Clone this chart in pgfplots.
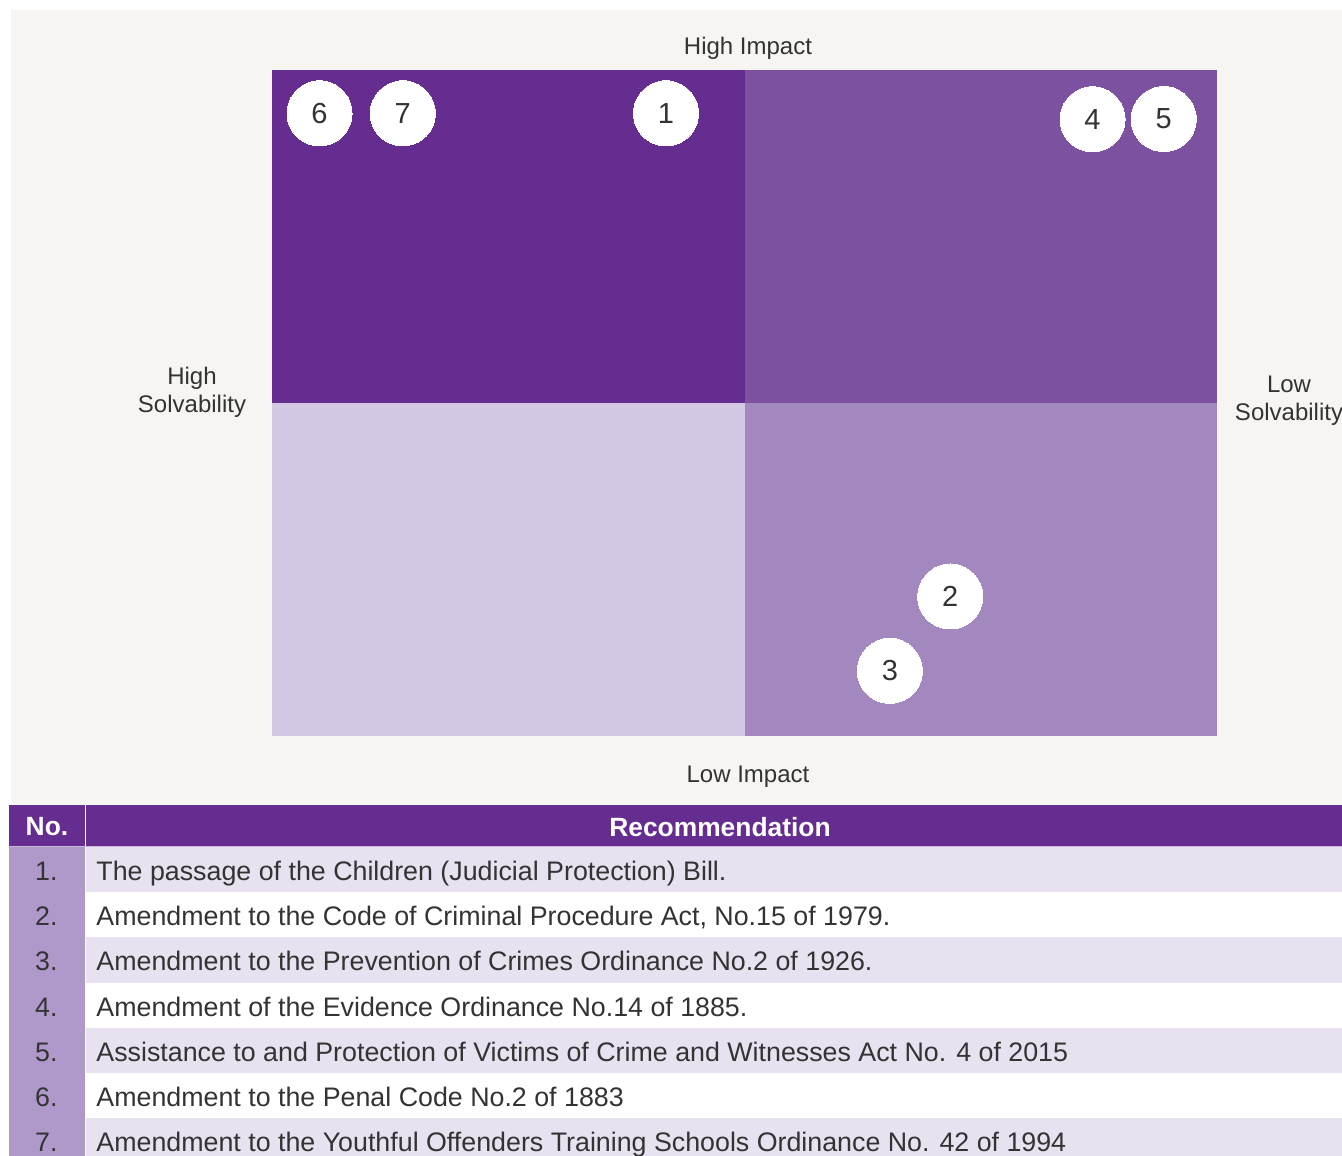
\documentclass[border=0pt]{standalone}
\usepackage{pgfplots}
\pgfplotsset{compat=1.18}
\usepackage{fontspec}
\setmainfont{Liberation Sans}
\definecolor{bg}{HTML}{F6F5F2}
\definecolor{qtl}{HTML}{642D8F}
\definecolor{qtr}{HTML}{7B51A0}
\definecolor{qbl}{HTML}{D3C8E4}
\definecolor{qbr}{HTML}{A288BF}
\definecolor{hdr}{HTML}{642D8F}
\definecolor{nocol}{HTML}{AF99CA}
\definecolor{rowl}{HTML}{E8E1F0}
\definecolor{hline}{HTML}{C9B8DB}
\definecolor{txt}{HTML}{333333}
\begin{document}
\begin{tikzpicture}[x=0.5pt,y=0.5pt]
\useasboundingbox (0,0) rectangle (1342,-1155);
\fill[white] (0,0) rectangle (1342,-1155);
\fill[bg] (11,-10) rectangle (1342,-805);
% axis labels
\tikzset{lab/.style={font=\fontsize{12}{14}\selectfont, text=txt, align=center}}
\node[lab] at (748,-48) {High Impact};
\node[lab] at (748,-777) {Low Impact};
\node[lab] at (192,-392) {High\\Solvability};
\node[lab] at (1289,-401) {Low\\Solvability};
\coordinate (axo) at (272,-736);
\begin{axis}[at={(axo)}, anchor=south west, scale only axis,
  width=472.5pt, height=333pt, xmin=0, xmax=10, ymin=0, ymax=10,
  axis lines=none, clip=false]
\addplot[fill=qtl, draw=none] coordinates {(0,5) (5,5) (5,10) (0,10)} -- cycle;
\addplot[fill=qtr, draw=none] coordinates {(5,5) (10,5) (10,10) (5,10)} -- cycle;
\addplot[fill=qbl, draw=none] coordinates {(0,0) (5,0) (5,5) (0,5)} -- cycle;
\addplot[fill=qbr, draw=none] coordinates {(5,0) (10,0) (10,5) (5,5)} -- cycle;
\addplot[white, only marks, mark=*, mark size=16.25pt, mark options={fill=white, draw=white, line width=0pt},
  point meta=explicit symbolic, nodes near coords, nodes near coords align={center},
  every node near coord/.append style={font=\fontsize{14.5}{16}\selectfont, text=txt, anchor=center}]
  table[meta=label] {
x y label
0.503 9.350 6
1.384 9.350 7
4.169 9.350 1
8.683 9.261 4
9.436 9.264 5
7.177 2.095 2
6.538 0.979 3
};
\end{axis}
% table
\fill[hdr] (9,-805) rectangle (1342,-846);
\fill[hline] (9,-846) rectangle (1342,-847);
\fill[white] (84.5,-805) rectangle (86,-846);
\node[font=\bfseries\fontsize{13.2}{15}\selectfont, text=white] at (47,-827) {No.};
\node[font=\bfseries\fontsize{13.2}{15}\selectfont, text=white] at (720,-827) {Recommendation};
\fill[nocol] (9,-847) rectangle (84.5,-1160);
\foreach \i in {0,2,4,6} {
  \fill[rowl] (86,{-847-45.2*\i}) rectangle (1342,{-847-45.2*(\i+1)});
}
\tikzset{rt/.style={font=\fontsize{13.4}{15}\selectfont, text=txt, anchor=base west, inner sep=0pt},
         rn/.style={font=\fontsize{13.4}{15}\selectfont, text=txt, anchor=base east, inner sep=0pt}}
\foreach \n/\t [count=\k from 0] in {
  1./{The passage of the Children (Judicial Protection) Bill.},
  2./{Amendment to the Code of Criminal Procedure Act, No.15 of 1979.},
  3./{Amendment to the Prevention of Crimes Ordinance No.2 of 1926.},
  4./{Amendment of the Evidence Ordinance No.14 of 1885.},
  5./{Assistance to and Protection of Victims of Crime and Witnesses Act No. 4 of 2015},
  6./{Amendment to the Penal Code No.2 of 1883},
  7./{Amendment to the Youthful Offenders Training Schools Ordinance No. 42 of 1994}} {
  \node[rn] at (58,{-880.5-45.2*\k}) {\n};
  \node[rt] at (96,{-880.5-45.2*\k}) {\t};
}
\end{tikzpicture}
\end{document}
